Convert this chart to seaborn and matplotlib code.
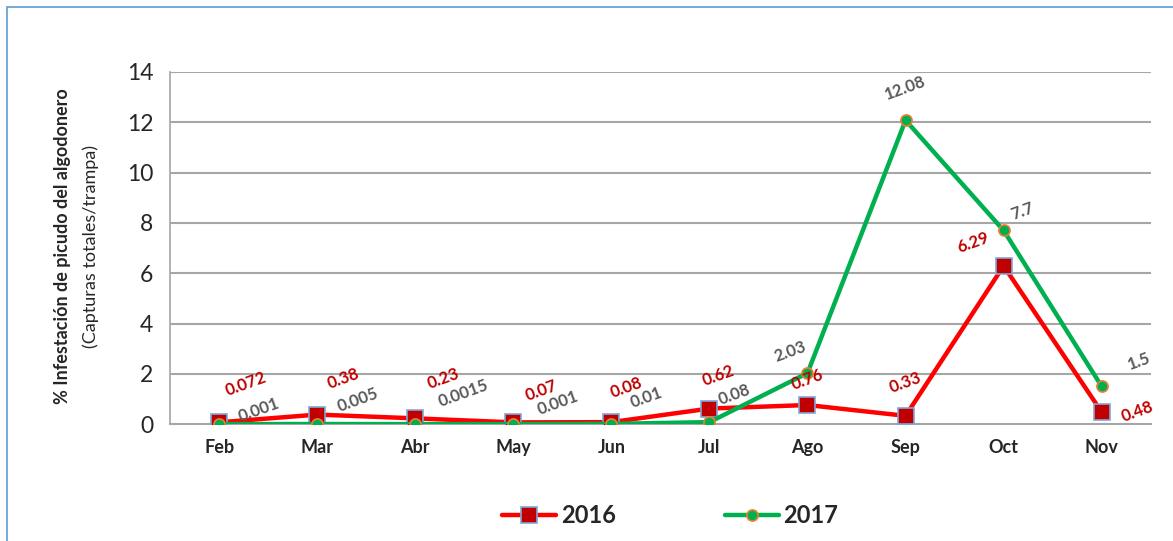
import matplotlib
matplotlib.use("Agg")
import matplotlib.pyplot as plt
import seaborn as sns
import pandas as pd
from matplotlib.patches import Rectangle

meses = ["Feb", "Mar", "Abr", "May", "Jun", "Jul", "Ago", "Sep", "Oct", "Nov"]
v2016 = [0.072, 0.38, 0.23, 0.07, 0.08, 0.62, 0.76, 0.33, 6.29, 0.48]
v2017 = [0.001, 0.005, 0.0015, 0.001, 0.01, 0.08, 2.03, 12.08, 7.7, 1.5]
etiq2016 = ["0.072", "0.38", "0.23", "0.07", "0.08", "0.62", "0.76", "0.33", "6.29", "0.48"]
etiq2017 = ["0.001", "0.005", "0.0015", "0.001", "0.01", "0.08", "2.03", "12.08", "7.7", "1.5"]

# desplazamiento de las etiquetas (pixeles)
off2016 = [(27, 38), (26, 36), (28, 40), (28, 32), (15, 34), (9, 33), (0, 25), (0, 33), (-31, 23), (36, 0)]
off2017 = [(40, 14), (41, 24), (48, 31), (45, 21), (35, 26), (25, 27), (-17, 21), (0, 32), (19, 19), (37, 25)]

ROJO = "#FF0000"
ROJO_OSC = "#C00000"
VERDE = "#00B050"
GRIS_TXT = "#595959"

sns.set_style("white")
plt.rcParams["font.family"] = ["Lato", "DejaVu Sans"]

df = pd.DataFrame({
    "mes": meses * 2,
    "valor": v2016 + v2017,
    "anio": ["2016"] * len(meses) + ["2017"] * len(meses),
})

fig = plt.figure(figsize=(11.73, 5.41), dpi=100)
ax = fig.add_axes([0.145, 0.216, 0.836, 0.651])

for y in range(2, 15, 2):
    ax.axhline(y, color="#A6A6A6", lw=1.5, zorder=0)

sns.lineplot(data=df[df.anio == "2016"], x="mes", y="valor", ax=ax, color=ROJO,
             lw=3.2, marker="s", markersize=11, markerfacecolor=ROJO_OSC,
             markeredgecolor="#7FA7D9", markeredgewidth=1.2, label="2016", zorder=3)
sns.lineplot(data=df[df.anio == "2017"], x="mes", y="valor", ax=ax, color=VERDE,
             lw=3.2, marker="o", markersize=8, markerfacecolor=VERDE,
             markeredgecolor="#ED7D31", markeredgewidth=1.2, label="2017", zorder=4)

for i, m in enumerate(meses):
    ax.annotate(etiq2016[i], (i, v2016[i]), xytext=(off2016[i][0], off2016[i][1]),
                textcoords="offset pixels", ha="center", va="center", rotation=20,
                color=ROJO_OSC, fontsize=12, fontweight="bold", zorder=5)
    ax.annotate(etiq2017[i], (i, v2017[i]), xytext=(off2017[i][0], off2017[i][1]),
                textcoords="offset pixels", ha="center", va="center", rotation=20,
                color=GRIS_TXT, fontsize=12, fontweight="bold", zorder=5)

ax.set_xlim(-0.5, 9.5)
ax.set_ylim(0, 14)
ax.set_yticks(range(0, 15, 2))
ax.set_xlabel("")
ax.set_ylabel("")
ax.tick_params(axis="y", labelsize=16.5, length=0, pad=12)
ax.tick_params(axis="x", labelsize=13, length=0, pad=11)
for t in ax.get_xticklabels():
    t.set_fontweight("bold")

for s in ["top", "right"]:
    ax.spines[s].set_visible(False)
ax.spines["left"].set_color("#A6A6A6")
ax.spines["bottom"].set_color("#A6A6A6")
ax.spines["left"].set_linewidth(1.2)
ax.spines["bottom"].set_linewidth(1.5)

fig.text(0.053, 0.545, "% Infestación de picudo del algodonero", rotation=90,
         ha="center", va="center", fontsize=13, fontweight="bold")
fig.text(0.077, 0.545, "(Capturas totales/trampa)", rotation=90,
         ha="center", va="center", fontsize=13)

leg = ax.legend(loc="center", bbox_to_anchor=(0.51, -0.26), ncol=2, frameon=False,
                prop={"size": 17, "weight": "bold"}, handlelength=2.3, columnspacing=4.6,
                handletextpad=0.2)

fig.patches.append(Rectangle((7 / 1173, -0.1), 1.1, 1 - 7 / 541 + 0.1,
                             transform=fig.transFigure, fill=False,
                             edgecolor="#5B9BD5", lw=1.2))

fig.savefig("out.png", dpi=100)
